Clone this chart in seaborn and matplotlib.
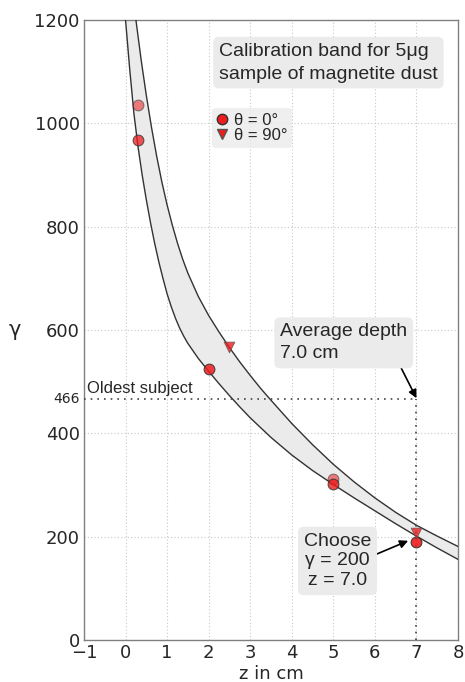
import numpy as np
import pandas as pd
import seaborn as sns
import matplotlib
matplotlib.use("Agg")
import matplotlib.pyplot as plt
from matplotlib.lines import Line2D

# ---- data ----
lower_z = [0.0, 0.1, 0.2, 0.3, 0.4, 0.5, 0.6, 0.7, 0.8, 0.9, 1.0, 1.1, 1.2, 1.3, 1.4, 1.5,
           1.75, 2.0, 2.25, 2.5, 2.75, 3.0, 3.5, 4.0, 4.5, 5.0, 5.5, 6.0, 6.5, 7.0, 7.5, 8.0]
lower_g = [1200, 1105, 1020, 955, 900, 852, 808, 768, 732, 700, 670, 645, 623, 604, 588, 574,
           545, 520, 496, 473, 451, 430, 392, 358, 328, 301, 275, 250, 225, 201, 178, 156]
upper_z = [0.25, 0.375, 0.5, 0.625, 0.75, 0.875, 1.0, 1.125, 1.25, 1.375, 1.5, 1.75, 2.0,
           2.25, 2.5, 2.75, 3.0, 3.25, 3.5, 4.0, 4.5, 5.0, 5.5, 6.0, 6.5, 7.0, 7.5, 8.0]
upper_g = [1200, 1123, 1054, 992, 936, 886, 842, 803, 768, 737, 710, 665, 628,
           596, 566, 538, 512, 487, 464, 419, 378, 340, 306, 275, 247, 222, 201, 181]

circ_z = [0.3, 0.3, 2.0, 5.0, 5.0, 7.0]
circ_g = [1035, 968, 524, 311, 302, 190]
circ_alpha = [0.55, 0.75, 0.85, 0.55, 0.8, 0.9]
tri_z = [2.5, 7.0]
tri_g = [567, 208]

oldest_depth = 7.0
oldest_gamma = 466

xticks = [-1, 0, 1, 2, 3, 4, 5, 6, 7, 8]
yticks = [0, 200, 400, 600, 800, 1000, 1200]

sns.set_theme(style="whitegrid")
plt.rcParams["font.family"] = ["DejaVu Sans"]

fig = plt.figure(figsize=(4.65, 6.82), dpi=100)
ax = fig.add_axes([0.1806, 0.0616, 0.8044, 0.9091])

# band
poly_x = list(lower_z) + list(upper_z[::-1])
poly_y = list(lower_g) + list(upper_g[::-1])
ax.fill(poly_x, poly_y, color="#ebebeb", zorder=2, lw=0)
sns.lineplot(x=lower_z, y=lower_g, ax=ax, color="#333333", lw=1.0, zorder=3, sort=False)
sns.lineplot(x=upper_z, y=upper_g, ax=ax, color="#333333", lw=1.0, zorder=3, sort=False)

red = "#ee1c1c"
for z, g, a in zip(circ_z, circ_g, circ_alpha):
    ax.scatter([z], [g], s=60, marker="o", color=red, alpha=a, edgecolor="#333333", linewidth=0.8, zorder=5)
ax.scatter(tri_z, tri_g, s=60, marker="v", color=red, alpha=0.8, edgecolor="#555555", linewidth=0.6, zorder=5)

# reference lines
ax.plot([-1, oldest_depth], [oldest_gamma, oldest_gamma], ls=(0, (1, 3)), color="#444444", lw=1.2, zorder=4)
ax.plot([oldest_depth, oldest_depth], [0, oldest_gamma], ls=(0, (1, 3)), color="#444444", lw=1.2, zorder=4)

ax.set_xlim(-1, 8)
ax.set_ylim(0, 1200)
ax.set_xticks(xticks)
ax.set_yticks(yticks)
ax.tick_params(labelsize=13, length=0, pad=3)
ax.grid(True, ls=(0, (1, 2)), color="#c8c8c8", lw=0.8)
for s in ax.spines.values():
    s.set_color("#808080")
    s.set_linewidth(1.0)
ax.set_facecolor("white")
ax.set_xlabel("z in cm", fontsize=13, labelpad=2)
ax.set_ylabel("γ", fontsize=15, rotation=0, va="center")
ax.yaxis.set_label_coords(-0.185, 0.5)

# 466 label and text
ax.text(-0.012, oldest_gamma, "466", transform=ax.get_yaxis_transform(), ha="right", va="center", fontsize=10)
ax.text(-0.93, oldest_gamma + 6, "Oldest subject", ha="left", va="bottom", fontsize=12,
        family=["Liberation Sans"])

box = dict(boxstyle="round,pad=0.3", fc="#ebebeb", ec="none")
ax.text(2.25, 1156, "Calibration band for 5μg\nsample of magnetite dust", ha="left", va="top",
        fontsize=14, family=["Liberation Sans"], bbox=box, linespacing=1.45, zorder=6)

ax.annotate("Average depth\n7.0 cm", xy=(oldest_depth, oldest_gamma + 2), xytext=(3.72, 613),
            ha="left", va="top", fontsize=14, family=["Liberation Sans"], bbox=box, linespacing=1.4,
            arrowprops=dict(arrowstyle="-|>", color="black", lw=1.2, shrinkA=0, shrinkB=0,
                            relpos=(0.93, 0.0), mutation_scale=12), zorder=6)

ax.annotate("Choose\nγ = 200\nz = 7.0", xy=(6.8, 192), xytext=(5.1, 153),
            ha="center", va="center", fontsize=14, family=["Liberation Sans", "DejaVu Sans"], bbox=box,
            linespacing=1.22,
            arrowprops=dict(arrowstyle="-|>", color="black", lw=1.2, shrinkA=0, shrinkB=0,
                            relpos=(1.08, 0.62), mutation_scale=12), zorder=6)

# legend
handles = [Line2D([], [], marker="o", color=red, markeredgecolor="#333333", ls="none", markersize=7.5),
           Line2D([], [], marker="v", color=red, markeredgecolor="#555555", ls="none", markersize=7.5)]
leg = ax.legend(handles, ["θ = 0°", "θ = 90°"], loc="upper left", bbox_to_anchor=(0.352, 0.853),
                frameon=True, handletextpad=0.4, borderpad=0.1, labelspacing=0.0,
                handlelength=0.6, borderaxespad=0, prop={"family": ["Liberation Sans", "DejaVu Sans"], "size": 12})
leg.get_frame().set_facecolor("#ebebeb")
leg.get_frame().set_edgecolor("none")
leg.get_frame().set_boxstyle("round,pad=0.2")
leg.set_zorder(6)

fig.savefig("out.png", dpi=100)
